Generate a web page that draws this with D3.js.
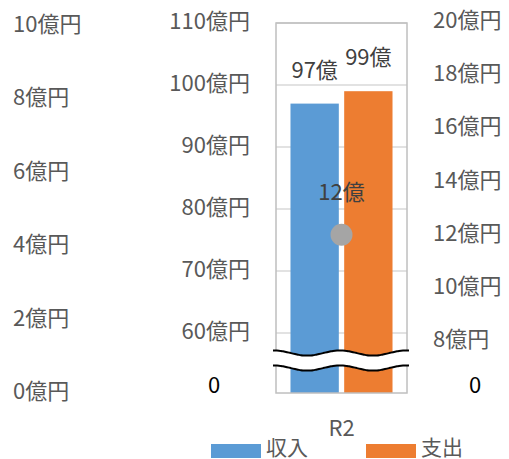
<!DOCTYPE html>
<html>
<head>
<meta charset="utf-8">
<script src="https://cdn.jsdelivr.net/npm/d3@7"></script>
<style>
  body { margin: 0; background: #fff; }
  text { font-family: "Noto Sans CJK JP", "Noto Sans", sans-serif; }
</style>
</head>
<body>
<div id="container"></div>
<script>
// data
const categories = ['R2'];
const series = ['収入', '支出'];
const revenue = [97];      // 億円
const expense = [99];      // 億円
const balance = [12];      // 億円 (right axis)
const leftTicks = [0, 2, 4, 6, 8, 10];
const midTicks = [60, 70, 80, 90, 100, 110];
const rightTicks = [8, 10, 12, 14, 16, 18, 20];
const colors = ['#5B9BD5', '#ED7D31'];

const width = 509, height = 459;
const svg = d3.select('#container').append('svg')
  .attr('width', width)
  .attr('height', height);

// plot box
const box = { left: 276, right: 407, top: 23, bottom: 393 };

// scales
const yMid = d3.scaleLinear().domain([60, 110]).range([333, 23]);
const yLeft = d3.scaleLinear().domain([0, 10]).range([389, 22]);
const yRight = d3.scaleLinear().domain([8, 20]).range([341, 22]);
const x0 = d3.scaleBand().domain(categories).range([box.left, box.right]).paddingOuter(0.142).paddingInner(0);
const x1 = d3.scaleBand().domain(series).range([0, x0.bandwidth()]).paddingInner(0.1);

// gridlines
svg.append('g')
  .selectAll('line')
  .data(midTicks)
  .enter().append('line')
  .attr('x1', box.left).attr('x2', box.right)
  .attr('y1', d => yMid(d)).attr('y2', d => yMid(d))
  .attr('stroke', '#d9d9d9')
  .attr('stroke-width', 1.5);

// bars
const rows = categories.map((c, i) => ({ cat: c, values: [revenue[i], expense[i]] }));
const group = svg.selectAll('g.cat')
  .data(rows)
  .enter().append('g')
  .attr('class', 'cat')
  .attr('transform', d => `translate(${x0(d.cat)},0)`);

group.selectAll('rect')
  .data(d => d.values.map((v, j) => ({ key: series[j], value: v, color: colors[j] })))
  .enter().append('rect')
  .attr('x', d => x1(d.key))
  .attr('width', x1.bandwidth())
  .attr('y', d => yMid(d.value))
  .attr('height', d => box.bottom - yMid(d.value))
  .attr('fill', d => d.color);

group.selectAll('text.lab')
  .data(d => d.values.map((v, j) => ({ key: series[j], value: v })))
  .enter().append('text')
  .attr('class', 'lab')
  .attr('x', d => x1(d.key) + x1.bandwidth() / 2)
  .attr('y', d => yMid(d.value) - 36)
  .attr('text-anchor', 'middle')
  .attr('dominant-baseline', 'central')
  .attr('font-size', 22)
  .attr('fill', '#404040')
  .text(d => d.value + '億');

// box border
svg.append('rect')
  .attr('x', box.left).attr('y', box.top)
  .attr('width', box.right - box.left)
  .attr('height', box.bottom - box.top)
  .attr('fill', 'none')
  .attr('stroke', '#bfbfbf')
  .attr('stroke-width', 1.5);

// axis break
const wave = (c) => d3.range(273, 411, 2).map(x => [x, c + 2.6 * Math.sin(2 * Math.PI * (x - 290.5) / 66)]);
const topWave = wave(353), bottomWave = wave(368);
svg.append('path')
  .attr('d', d3.line()(topWave.concat(bottomWave.slice().reverse())) + 'Z')
  .attr('fill', '#fff');
[topWave, bottomWave].forEach(w => {
  svg.append('path')
    .attr('d', d3.line().curve(d3.curveBasis)(w))
    .attr('fill', 'none')
    .attr('stroke', '#000')
    .attr('stroke-width', 2);
});

// balance point
svg.selectAll('circle.bal')
  .data(balance)
  .enter().append('circle')
  .attr('class', 'bal')
  .attr('cx', (d, i) => x0(categories[i]) + x0.bandwidth() / 2)
  .attr('cy', d => yRight(d))
  .attr('r', 11)
  .attr('fill', '#A5A5A5');

svg.selectAll('text.bal')
  .data(balance)
  .enter().append('text')
  .attr('class', 'bal')
  .attr('x', (d, i) => x0(categories[i]) + x0.bandwidth() / 2)
  .attr('y', d => yRight(d) - 45)
  .attr('text-anchor', 'middle')
  .attr('dominant-baseline', 'central')
  .attr('font-size', 22)
  .attr('fill', '#404040')
  .text(d => d + '億');

// axis labels
const axisText = (ticks, scale, x, anchor, dy) => {
  svg.append('g')
    .selectAll('text')
    .data(ticks)
    .enter().append('text')
    .attr('x', x)
    .attr('y', d => scale(d) + dy)
    .attr('text-anchor', anchor)
    .attr('dominant-baseline', 'central')
    .attr('font-size', 22)
    .attr('fill', '#595959')
    .text(d => d + '億円');
};
axisText(leftTicks, yLeft, 13, 'start', 0);
axisText(midTicks, yMid, 250, 'end', -4);
axisText(rightTicks, yRight, 433, 'start', -4);

// zero labels at the break
svg.append('text').attr('x', 214).attr('y', 383)
  .attr('text-anchor', 'middle').attr('dominant-baseline', 'central')
  .attr('font-size', 22).attr('fill', '#000').text('0');
svg.append('text').attr('x', 475).attr('y', 383)
  .attr('text-anchor', 'middle').attr('dominant-baseline', 'central')
  .attr('font-size', 22).attr('fill', '#000').text('0');

// category label
svg.selectAll('text.cat')
  .data(categories)
  .enter().append('text')
  .attr('class', 'cat')
  .attr('x', d => x0(d) + x0.bandwidth() / 2)
  .attr('y', 426)
  .attr('text-anchor', 'middle')
  .attr('dominant-baseline', 'central')
  .attr('font-size', 22)
  .attr('fill', '#595959')
  .text(d => d);

// legend
const legendX = [211, 366];
const legend = svg.selectAll('g.legend')
  .data(series)
  .enter().append('g')
  .attr('class', 'legend')
  .attr('transform', (d, i) => `translate(${legendX[i]},444)`);
legend.append('rect')
  .attr('width', 50).attr('height', 14)
  .attr('fill', (d, i) => colors[i]);
legend.append('text')
  .attr('x', 55).attr('y', 2)
  .attr('dominant-baseline', 'central')
  .attr('font-size', 21)
  .attr('fill', '#595959')
  .text(d => d);
</script>
</body>
</html>
